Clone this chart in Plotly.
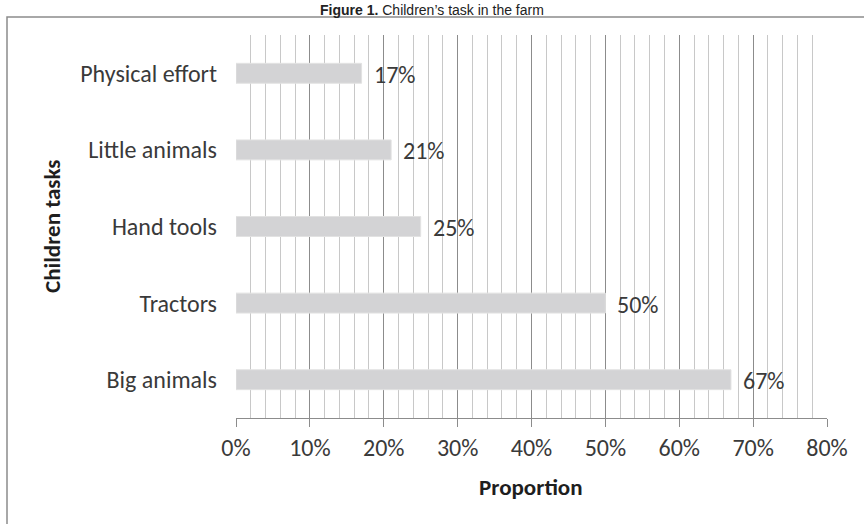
import plotly.graph_objects as go

categories = ["Physical effort", "Little animals", "Hand tools", "Tractors", "Big animals"]
values = [0.17, 0.21, 0.25, 0.50, 0.67]
value_labels = ["17%", "21%", "25%", "50%", "67%"]

FONT = "Carlito, Lato, Open Sans, sans-serif"
TXT = "#3a3a3a"
FS = 24

fig = go.Figure()
fig.add_trace(go.Bar(
    y=categories, x=values, orientation="h",
    marker=dict(color="#d3d3d5", line=dict(color="#e2e2e2", width=1)),
    hoverinfo="skip",
))

for c, v, t in zip(categories, values, value_labels):
    fig.add_annotation(x=v, y=c, text=t, showarrow=False, xanchor="left",
                       xshift=10, yshift=-1, font=dict(family=FONT, size=FS, color=TXT))

fig.update_layout(
    width=864, height=524,
    margin=dict(l=236, r=37, t=35, b=106),
    paper_bgcolor="white", plot_bgcolor="white",
    bargap=0.74,
    showlegend=False,
    xaxis=dict(
        range=[0, 0.8], dtick=0.1, tickformat=".0%",
        showgrid=True, gridcolor="#8c8c8c", gridwidth=1,
        minor=dict(dtick=0.02, showgrid=True, gridcolor="#c8c8c8", gridwidth=1),
        ticks="outside", ticklen=8, tickcolor="#8c8c8c",
        showline=True, linecolor="#8c8c8c", linewidth=1,
        zeroline=False,
        tickfont=dict(family=FONT, size=FS, color=TXT),
    ),
    yaxis=dict(
        categoryorder="array", categoryarray=categories[::-1],
        showgrid=False, showline=False, zeroline=False, ticks="",
        ticklabelstandoff=18,
        tickfont=dict(family=FONT, size=FS, color=TXT),
    ),
)

# axis titles
fig.add_annotation(xref="paper", yref="paper", x=(531 - 236) / 591, y=(418 - 487) / 383,
                   text="<b>Proportion</b>", showarrow=False, xanchor="center", yanchor="middle",
                   font=dict(family=FONT, size=FS - 1, color="#1e1e1e"))
fig.add_annotation(xref="paper", yref="paper", x=(52 - 236) / 591, y=(418 - 226) / 383,
                   text="<b>Children tasks</b>", showarrow=False, xanchor="center", yanchor="middle",
                   textangle=-90, font=dict(family=FONT, size=FS - 1, color="#1e1e1e"))

# outer frame
fig.add_shape(type="rect", xref="paper", yref="paper",
              x0=(7 - 236) / 591, x1=1.2, y0=-0.5, y1=(418 - 17) / 383,
              line=dict(color="#8c8c8c", width=1.5), layer="below")

# figure caption
fig.add_annotation(xref="paper", yref="paper", x=(432 - 236) / 591, y=(418 - 0) / 383,
                   text="<b>Figure 1.</b> Children’s task in the farm", showarrow=False,
                   xanchor="center", yanchor="top",
                   font=dict(family="Liberation Sans", size=14, color="#222"))

fig.write_html("out.html", config={"displayModeBar": False},
               post_script="document.body.style.margin='0';")
